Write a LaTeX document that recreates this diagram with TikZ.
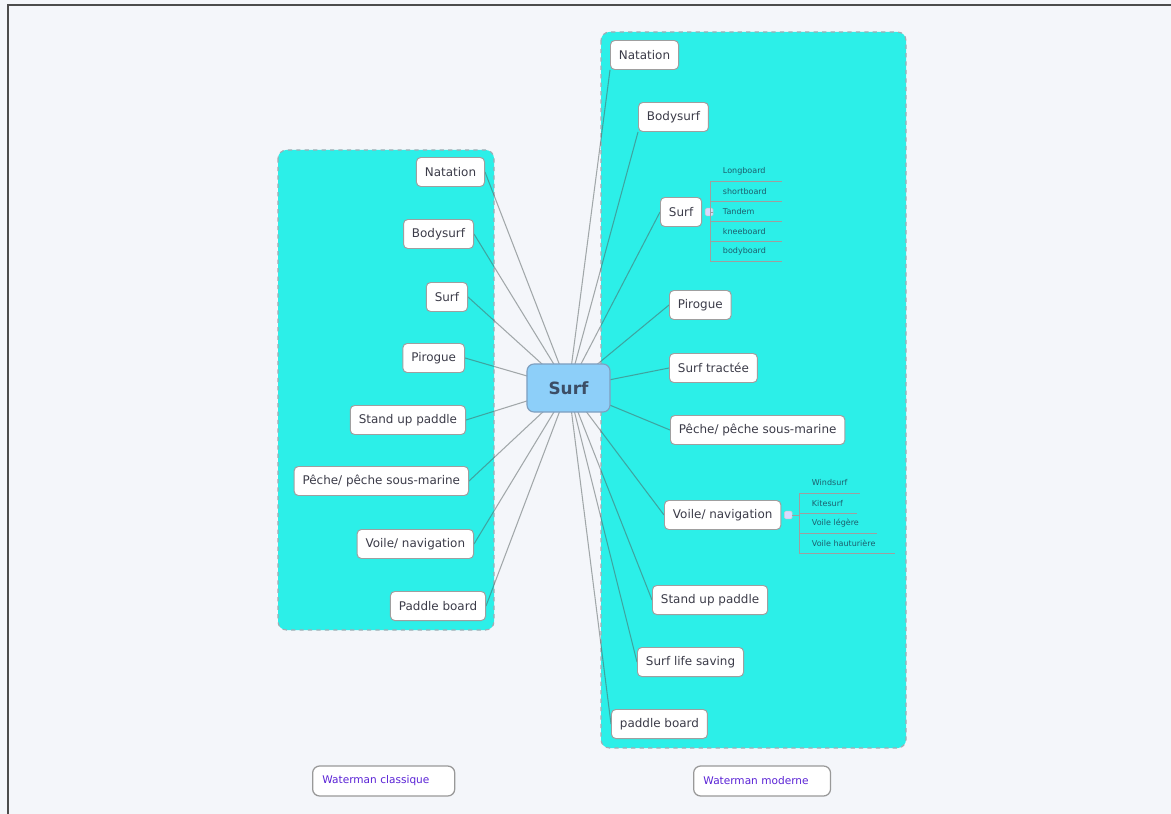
\documentclass[tikz,border=0pt]{standalone}
\usepackage{fontspec}
\setmainfont{DejaVu Sans}
\usetikzlibrary{positioning}
\definecolor{pagebg}{HTML}{F4F6FA}
\definecolor{lagoon}{HTML}{2CEFE8}
\definecolor{zoneline}{HTML}{A3ABB3}
\definecolor{hubfill}{HTML}{8DCFF9}
\definecolor{hubline}{HTML}{7F9FBF}
\definecolor{hubtext}{HTML}{3C4E66}
\definecolor{itemtext}{HTML}{3B3B48}
\definecolor{subtext}{HTML}{1D5F6E}
\definecolor{legendtext}{HTML}{5A22D6}
\definecolor{linkgray}{HTML}{505A5A}
\pgfdeclarelayer{back}
\pgfdeclarelayer{links}
\pgfsetlayers{back,links,main}
\tikzset{
  item/.style={draw=gray!75,fill=white,rounded corners=3pt,line width=0.7pt,
    minimum height=0.725cm,inner xsep=6pt,text=itemtext,font=\fontsize{8.5}{10}\selectfont},
  hub/.style={draw=hubline,fill=hubfill,rounded corners=5pt,line width=0.8pt,
    minimum width=2.075cm,minimum height=1.2cm,text=hubtext,font=\fontsize{12}{14}\bfseries},
  link/.style={draw=linkgray,opacity=0.5,line width=0.75pt},
  zone/.style={draw=zoneline,fill=lagoon,dashed,rounded corners=6pt,line width=0.8pt},
  fold/.style={draw=gray!40,fill=blue!15,minimum size=5.5pt,inner sep=0pt,rounded corners=1pt},
  subitem/.style={anchor=south west,inner xsep=9pt,inner ysep=0pt,minimum height=0.4875cm,
    text=subtext,font=\fontsize{5.7}{6.5}\selectfont},
  subline/.style={draw=gray!75,line width=0.5pt},
  legend/.style={draw=gray!80,fill=white,rounded corners=5pt,line width=0.9pt,anchor=west,
    minimum height=0.75cm,inner xsep=7pt,align=left,text=legendtext,font=\fontsize{7.5}{9}\selectfont}
}
\begin{document}
\begin{tikzpicture}[x=0.025cm,y=-0.025cm]
\useasboundingbox (0,0) rectangle (1171,814);
\begin{pgfonlayer}{back}
\fill[pagebg] (0,0) rectangle (1171,814);
\draw[gray!60!black,line width=0.8pt] (8,814) -- (8,5) -- (1171,5); % frame
\draw[zone] (278,150) rectangle (494,630);  % classique
\draw[zone] (601,32) rectangle (906,748);   % moderne
\end{pgfonlayer}

\node[hub] (hub) at (568.5,388) {Surf};

% waterman classique
\node[item,anchor=east] (lNat) at (485,172) {Natation};
\node[item,anchor=east] (lBod) at (474,234) {Bodysurf};
\node[item,anchor=east] (lSurf) at (468,297) {Surf};
\node[item,anchor=east] (lPir) at (465,358) {Pirogue};
\node[item,anchor=east] (lSup) at (466,420) {Stand up paddle};
\node[item,anchor=east] (lPec) at (469,481) {Pêche/ pêche sous-marine};
\node[item,anchor=east] (lVoi) at (474,544) {Voile/ navigation};
\node[item,anchor=east] (lPad) at (486,606) {Paddle board};

% waterman moderne
\node[item,anchor=west] (rNat) at (610,55) {Natation};
\node[item,anchor=west] (rBod) at (638,117) {Bodysurf};
\node[item,anchor=west] (rSurf) at (660,212) {Surf};
\node[item,anchor=west] (rPir) at (669,305) {Pirogue};
\node[item,anchor=west] (rTra) at (669,368) {Surf tractée};
\node[item,anchor=west] (rPec) at (670,430) {Pêche/ pêche sous-marine};
\node[item,anchor=west] (rVoi) at (664,515) {Voile/ navigation};
\node[item,anchor=west] (rSup) at (652,600) {Stand up paddle};
\node[item,anchor=west] (rSls) at (637,662) {Surf life saving};
\node[item,anchor=west] (rPad) at (611,724) {paddle board};

% surf boards
\node[fold,right=2pt of rSurf] (fSurf) {};
\node[subitem] (sLong) at (710,181) {Longboard};
\node[subitem,below=0pt of sLong.south west,anchor=north west] (sShort) {shortboard};
\node[subitem,below=0pt of sShort.south west,anchor=north west] (sTand) {Tandem};
\node[subitem,below=0pt of sTand.south west,anchor=north west] (sKnee) {kneeboard};
\node[subitem,below=0pt of sKnee.south west,anchor=north west] (sBody) {bodyboard};
\draw[subline] (sLong.south west) -- ++(72,0);
\draw[subline] (sShort.south west) -- ++(72,0);
\draw[subline] (sTand.south west) -- ++(72,0);
\draw[subline] (sKnee.south west) -- ++(72,0);
\draw[subline] (sBody.south west) -- ++(72,0);
\draw[subline] (sLong.south west) -- (sBody.south west);
\draw[subline] (fSurf.east) -- (fSurf.east -| sLong.south west);

% voile
\node[fold,right=2pt of rVoi] (fVoi) {};
\node[subitem] (sWind) at (799,493) {Windsurf};
\node[subitem,below=0pt of sWind.south west,anchor=north west] (sKite) {Kitesurf};
\node[subitem,below=0pt of sKite.south west,anchor=north west] (sLeg) {Voile légère};
\node[subitem,below=0pt of sLeg.south west,anchor=north west] (sHau) {Voile hauturière};
\draw[subline] (sWind.south west) -- ++(61,0);
\draw[subline] (sKite.south west) -- ++(58,0);
\draw[subline] (sLeg.south west) -- ++(78,0);
\draw[subline] (sHau.south west) -- ++(96,0);
\draw[subline] (sWind.south west) -- (sHau.south west);
\draw[subline] (fVoi.east) -- (fVoi.east -| sWind.south west);

\begin{pgfonlayer}{links}
\draw[link] (lNat.east) -- (hub.center);
\draw[link] (lBod.east) -- (hub.center);
\draw[link] (lSurf.east) -- (hub.center);
\draw[link] (lPir.east) -- (hub.center);
\draw[link] (lSup.east) -- (hub.center);
\draw[link] (lPec.east) -- (hub.center);
\draw[link] (lVoi.east) -- (hub.center);
\draw[link] (lPad.east) -- (hub.center);
\draw[link] (hub.center) -- (rNat.south west);
\draw[link] (hub.center) -- (rBod.south west);
\draw[link] (hub.center) -- (rSurf.west);
\draw[link] (hub.center) -- (rPir.west);
\draw[link] (hub.center) -- (rTra.west);
\draw[link] (hub.center) -- (rPec.west);
\draw[link] (hub.center) -- (rVoi.west);
\draw[link] (hub.center) -- (rSup.west);
\draw[link] (hub.center) -- (rSls.west);
\draw[link] (hub.center) -- (rPad.west);
\end{pgfonlayer}

\node[legend,text width=3.06cm] (lgClassic) at (312,781) {Waterman classique};
\node[legend,text width=2.93cm] (lgModern) at (693,781) {Waterman moderne};
\end{tikzpicture}
\end{document}
